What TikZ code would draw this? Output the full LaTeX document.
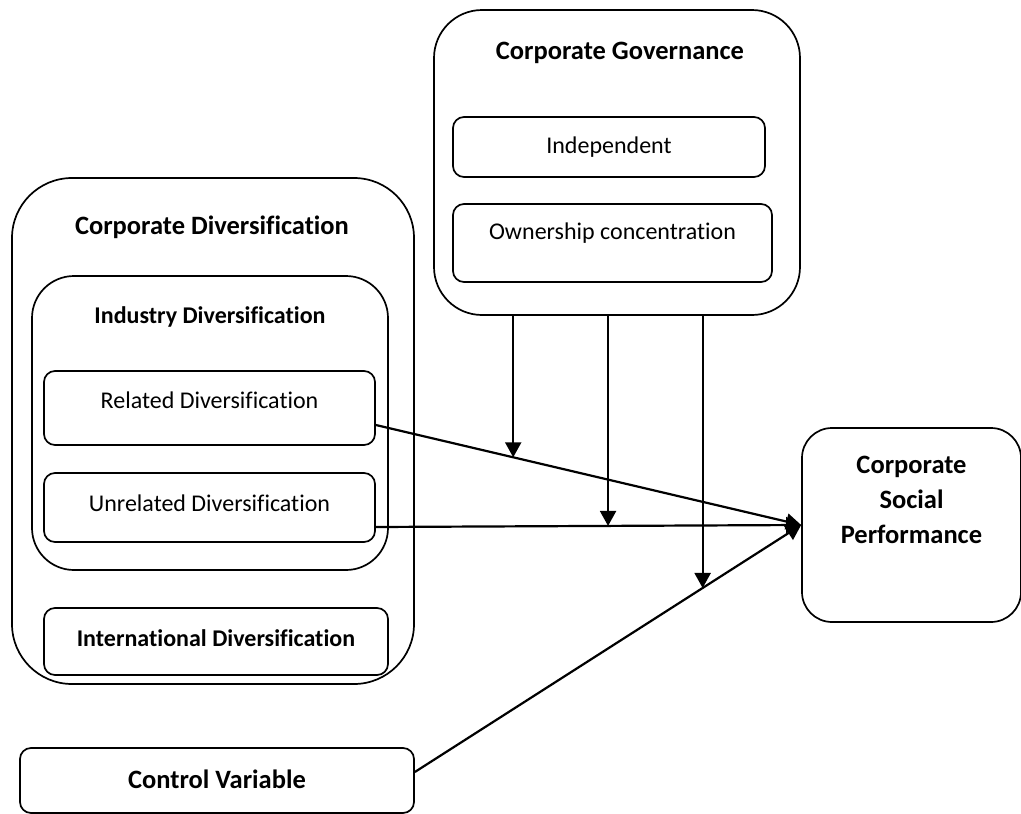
\documentclass[tikz,border=0pt]{standalone}
\usepackage{fontspec}
\setmainfont{Carlito}[Ligatures=CommonOff]
\usepackage{tikz}
\usetikzlibrary{arrows.meta,calc}

\begin{document}
\begin{tikzpicture}[x=1pt,y=-1pt,>={Triangle[length=15pt,width=16pt]},
    box/.style={draw,line width=1.7pt,inner sep=0pt,rounded corners=#1},
    box/.default=11pt,
    txt/.style={font=\fontsize{24}{29}\selectfont},
    hd/.style={font=\fontsize{26.5}{35}\selectfont\bfseries,align=center},
    subhd/.style={font=\fontsize{24}{29}\selectfont\bfseries},
    link/.style={line width=2.2pt,->}]
  \useasboundingbox (0,0) rectangle (1021,814);
  % diversification block
  \node[box=60pt,minimum width=402pt,minimum height=506pt] (cd) at (213,431) {};
  \node[hd] (cdtitle) at (212,227) {Corporate Diversification};
  \node[box=42pt,minimum width=356pt,minimum height=294pt] (ind) at (210,423) {};
  \node[subhd] (indtitle) at (210,317) {Industry Diversification};
  \node[box,minimum width=331pt,minimum height=74pt] (rel) at (209.5,408) {};
  \node[txt] at ([yshift=8pt]rel.center) {Related Diversification};
  \node[box,minimum width=331pt,minimum height=69pt] (unrel) at (209.5,507.5) {};
  \node[txt] at ([yshift=4.5pt]unrel.center) {Unrelated Diversification};
  \node[box,minimum width=344pt,minimum height=67pt] (intl) at (216,641.5) {};
  \node[subhd] at ([yshift=3.5pt]intl.center) {International Diversification};
  % governance block
  \node[box=48pt,minimum width=366pt,minimum height=305pt] (cg) at (617,162.5) {};
  \node[hd] (cgtitle) at (620,53) {Corporate Governance};
  \node[box,minimum width=312pt,minimum height=60pt] (indep) at (609,147) {};
  \node[txt] at (indep.center) {Independent};
  \node[box,minimum width=319pt,minimum height=78pt] (own) at (612.5,243) {};
  \node[txt] at ([yshift=10pt]own.center) {Ownership concentration};
  % outcome and control
  \node[box=30pt,minimum width=219pt,minimum height=194pt] (csp) at (911.5,525) {};
  \node[hd] at ([yshift=25pt]csp.center) {Corporate\\Social\\Performance};
  \node[box,minimum width=394pt,minimum height=65pt] (ctrl) at (217,780.5) {};
  \node[hd] at ([yshift=1.5pt]ctrl.center) {Control Variable};
  % main paths
  \coordinate (relout) at ([yshift=-17pt]rel.east);
  \coordinate (unrelout) at ([yshift=-19.5pt]unrel.east);
  \coordinate (ctrlout) at ([yshift=8.5pt]ctrl.east);
  \draw[link] (relout) -- (csp.west);
  \draw[link] (unrelout) -- (csp.west);
  \draw[link] (ctrlout) -- (csp.west);
  % moderating arrows
  \coordinate (m1) at ($(relout)!0.323!(csp.west)$);
  \coordinate (m2) at ($(unrelout)!0.546!(csp.west)$);
  \coordinate (m3) at ($(ctrlout)!0.745!(csp.west)$);
  \foreach \m in {m1,m2,m3}
    \draw[link] (cg.south -| \m) -- (\m);
\end{tikzpicture}
\end{document}
